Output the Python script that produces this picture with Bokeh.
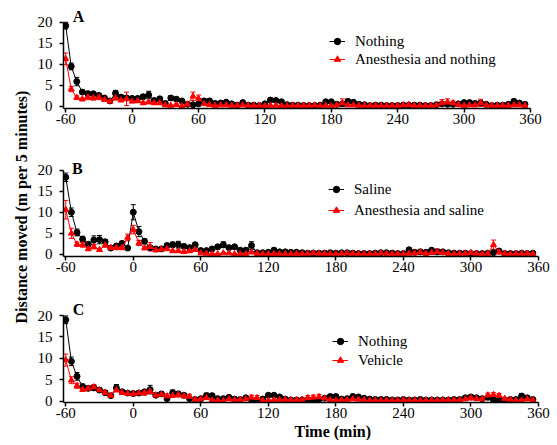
import math
from bokeh.plotting import figure
from bokeh.models import (ColumnDataSource, Range1d, FixedTicker, Whisker, TeeHead,
                          Legend, LegendItem, Label, Title)
from bokeh.layouts import row, column
from bokeh.embed import file_html
from bokeh.resources import INLINE

FONT = "Liberation Serif"

time_min = list(range(-60, 360, 5))
x_ticks = [-60, 0, 60, 120, 180, 240, 300, 360]
y_ticks = [0, 5, 10, 15, 20]

# ---------------- Panel A ----------------
a_nothing = [19.2, 9.5, 5.9, 3.4, 3.0, 3.0, 2.6, 2.0, 1.3, 3.1, 2.2, 2.0,
             1.9, 1.9, 2.3, 2.7, 1.4, 1.8, 0.7, 2.0, 1.7, 1.3, 0.5, 0.4,
             0.6, 1.3, 1.3, 0.7, 0.8, 1.0, 0.6, 0.3, 0.9, 0.3, 0.3, 0.2,
             0.6, 1.5, 1.4, 1.1, 0.4, 0.3, 0.3, 0.2, 0.2, 0.2, 0.3, 1.1,
             1.1, 0.5, 0.6, 1.2, 1.0, 0.5, 0.4, 0.2, 0.3, 0.3, 0.2, 0.2,
             0.2, 0.3, 0.3, 0.3, 0.3, 0.2, 0.2, 0.4, 0.6, 0.5, 0.5, 0.6,
             0.9, 0.9, 0.7, 0.8, 0.5, 0.2, 0.3, 0.3, 0.5, 1.2, 0.8, 0.5]
a_nothing_err = [0.8, 0.8, 1.0, 0.5, 0.6, 0.4, 0.5, 0.4, 0.3, 0.7, 0.5, 0.5,
                 0.4, 0.4, 0.5, 0.9, 0.4, 0.4, 0.3, 0.5, 0.5, 0.3, 0.2, 0.2,
                 0.3, 0.5, 0.5, 0.3, 0.3, 0.3, 0.2, 0.2, 0.3, 0.2, 0.2, 0.1,
                 0.3, 0.4, 0.4, 0.4, 0.2, 0.2, 0.2, 0.1, 0.1, 0.1, 0.2, 0.3,
                 0.3, 0.2, 0.3, 0.5, 0.4, 0.2, 0.2, 0.1, 0.1, 0.1, 0.1, 0.1,
                 0.1, 0.1, 0.1, 0.1, 0.1, 0.1, 0.1, 0.2, 0.3, 0.2, 0.2, 0.3,
                 0.3, 0.4, 0.3, 0.3, 0.2, 0.1, 0.1, 0.2, 0.2, 0.5, 0.4, 0.2]
a_anesth = [11.3, 4.1, 2.1, 1.7, 2.2, 2.0, 2.2, 1.6, 1.2, 2.0, 1.5, 1.8,
            1.2, 1.3, 0.8, 1.0, 0.8, 0.8, 0.3, 0.2, 0.4, 0.1, 0.5, 2.4,
            1.9, 0.6, 0.4, 0.2, 0.3, 0.3, 0.2, 0.2, 0.3, 0.2, 0.2, 0.2,
            0.1, 0.2, 0.2, 0.1, 0.1, 0.2, 0.2, 0.2, 0.2, 0.3, 0.1, 0.2,
            0.1, 0.3, 0.8, 0.3, 0.3, 0.2, 0.2, 0.2, 0.2, 0.2, 0.2, 0.2,
            0.2, 0.3, 0.4, 0.2, 0.2, 0.2, 0.2, 0.3, 0.8, 1.0, 0.8, 0.4,
            0.2, 0.3, 0.3, 0.8, 0.3, 0.2, 0.2, 0.2, 0.2, 0.3, 0.3, 0.2]
a_anesth_err = [1.4, 0.6, 0.4, 0.3, 0.6, 0.5, 0.6, 0.4, 0.3, 0.5, 0.4, 1.6,
                0.3, 0.4, 0.3, 0.3, 0.3, 0.3, 0.2, 0.1, 0.2, 0.1, 0.2, 1.0,
                0.8, 0.3, 0.2, 0.1, 0.2, 0.2, 0.1, 0.1, 0.2, 0.1, 0.1, 0.1,
                0.1, 0.1, 0.1, 0.1, 0.1, 0.1, 0.1, 0.1, 0.1, 0.2, 0.1, 0.1,
                0.1, 0.2, 1.0, 0.2, 0.2, 0.1, 0.1, 0.1, 0.1, 0.1, 0.1, 0.1,
                0.1, 0.2, 0.3, 0.1, 0.1, 0.1, 0.1, 0.2, 0.8, 0.8, 0.5, 0.2,
                0.1, 0.2, 0.2, 0.9, 0.2, 0.1, 0.1, 0.1, 0.1, 0.2, 0.2, 0.1]

# ---------------- Panel B ----------------
b_saline = [18.3, 10.0, 5.2, 3.6, 2.4, 3.4, 3.5, 3.0, 1.5, 2.0, 2.6, 1.5,
            10.0, 5.4, 3.1, 1.6, 1.3, 1.3, 2.1, 2.3, 2.3, 1.9, 1.6, 2.3,
            0.9, 0.9, 1.3, 1.8, 2.3, 1.6, 1.8, 1.0, 1.0, 2.1, 0.4, 0.4,
            0.5, 1.0, 0.6, 0.6, 0.5, 0.5, 0.4, 0.3, 0.3, 0.3, 0.3, 0.4,
            0.3, 0.4, 0.4, 0.3, 0.2, 0.2, 0.2, 0.3, 0.4, 0.4, 0.3, 0.2,
            0.2, 1.1, 0.5, 0.6, 0.5, 1.0, 0.6, 0.6, 0.4, 0.3, 0.3, 0.3,
            0.2, 0.2, 0.2, 0.3, 0.4, 0.8, 0.2, 0.2, 0.2, 0.3, 0.2, 0.3]
b_saline_err = [1.0, 1.0, 0.8, 0.7, 0.5, 1.0, 1.0, 0.5, 0.4, 0.4, 0.5, 0.4,
                1.8, 1.2, 0.6, 0.4, 0.3, 0.3, 0.5, 0.6, 0.8, 0.5, 0.4, 0.5,
                0.3, 0.3, 0.4, 0.5, 0.7, 0.4, 0.5, 0.4, 0.4, 0.9, 0.2, 0.2,
                0.2, 0.5, 0.3, 0.2, 0.2, 0.2, 0.1, 0.1, 0.1, 0.1, 0.1, 0.2,
                0.1, 0.2, 0.2, 0.1, 0.1, 0.1, 0.1, 0.1, 0.2, 0.2, 0.1, 0.1,
                0.1, 0.4, 0.2, 0.3, 0.2, 0.4, 0.3, 0.3, 0.2, 0.1, 0.1, 0.1,
                0.1, 0.1, 0.1, 0.1, 0.2, 0.3, 0.1, 0.1, 0.1, 0.1, 0.1, 0.1]
b_anesth = [10.6, 5.0, 2.4, 2.3, 1.3, 1.8, 1.1, 2.2, 1.6, 1.6, 1.6, 4.0,
            5.9, 2.7, 1.5, 1.8, 1.0, 1.2, 1.3, 0.8, 0.8, 0.6, 0.8, 1.1,
            0.3, 0.2, 0.1, 0.1, 0.3, 0.3, 0.1, 0.1, 0.1, 0.5, 0.2, 0.1,
            0.1, 0.1, 0.1, 0.1, 0.1, 0.2, 0.1, 0.2, 0.3, 0.2, 0.2, 0.1,
            0.1, 0.2, 0.3, 0.2, 0.1, 0.1, 0.1, 0.1, 0.3, 0.2, 0.1, 0.1,
            0.1, 0.2, 0.3, 0.5, 0.2, 0.4, 0.6, 0.4, 0.2, 0.1, 0.2, 0.2,
            0.4, 0.2, 0.1, 0.2, 2.3, 0.5, 0.2, 0.1, 0.2, 0.2, 0.2, 0.2]
b_anesth_err = [2.2, 1.2, 0.5, 0.6, 0.4, 0.5, 0.3, 0.5, 0.4, 0.5, 0.5, 0.8,
                1.0, 0.6, 0.4, 1.0, 0.3, 0.3, 0.3, 0.2, 0.2, 0.2, 0.2, 0.3,
                0.1, 0.1, 0.1, 0.1, 0.1, 0.1, 0.1, 0.1, 0.1, 0.2, 0.1, 0.1,
                0.1, 0.1, 0.1, 0.1, 0.1, 0.1, 0.1, 0.1, 0.2, 0.1, 0.1, 0.1,
                0.1, 0.1, 0.2, 0.1, 0.1, 0.1, 0.1, 0.1, 0.2, 0.1, 0.1, 0.1,
                0.1, 0.1, 0.2, 0.7, 0.1, 0.3, 0.7, 0.2, 0.1, 0.1, 0.1, 0.1,
                0.3, 0.1, 0.1, 0.1, 1.1, 0.3, 0.1, 0.1, 0.1, 0.1, 0.1, 0.1]

# ---------------- Panel C ----------------
c_nothing = [19.0, 9.3, 5.8, 3.4, 3.0, 3.1, 2.6, 2.0, 1.3, 3.1, 2.2, 1.9,
             1.8, 1.9, 2.2, 2.7, 1.4, 1.7, 0.6, 2.0, 1.7, 1.4, 0.6, 0.4,
             0.6, 1.3, 1.3, 0.6, 0.6, 0.9, 0.5, 0.4, 0.8, 0.3, 0.1, 0.5,
             1.4, 1.4, 1.0, 0.5, 0.3, 0.3, 0.3, 0.3, 0.3, 0.4, 0.7, 1.1,
             1.1, 0.5, 0.6, 1.1, 1.0, 0.7, 0.5, 0.4, 0.4, 0.4, 0.3, 0.3,
             0.4, 0.3, 0.3, 0.4, 0.3, 0.3, 0.3, 0.3, 0.3, 0.4, 0.4, 0.8,
             1.0, 0.8, 0.6, 0.9, 0.3, 0.3, 0.3, 0.4, 0.4, 1.2, 0.8, 0.4]
c_nothing_err = [0.9, 1.0, 0.9, 0.6, 0.5, 0.5, 0.5, 0.5, 0.3, 0.8, 0.5, 0.4,
                 0.4, 0.5, 0.5, 1.0, 0.4, 0.4, 0.4, 0.6, 0.6, 0.4, 0.3, 0.2,
                 0.3, 0.6, 0.5, 0.3, 0.3, 0.3, 0.2, 0.2, 0.3, 0.2, 0.1, 0.2,
                 0.4, 0.4, 0.3, 0.2, 0.1, 0.1, 0.1, 0.1, 0.1, 0.2, 0.3, 0.4,
                 0.4, 0.2, 0.3, 0.5, 0.4, 0.3, 0.2, 0.2, 0.2, 0.2, 0.1, 0.1,
                 0.2, 0.1, 0.1, 0.2, 0.1, 0.1, 0.1, 0.1, 0.1, 0.2, 0.2, 0.3,
                 0.4, 0.3, 0.3, 0.4, 0.1, 0.1, 0.1, 0.2, 0.2, 0.6, 0.4, 0.2]
c_vehicle = [9.6, 4.9, 3.6, 2.7, 3.0, 3.3, 2.6, 2.0, 1.3, 2.6, 2.0, 1.8,
             1.7, 1.9, 2.0, 2.3, 1.4, 1.6, 1.2, 1.3, 1.5, 1.2, 1.1, 0.4,
             0.5, 0.8, 0.2, 0.2, 0.1, 0.5, 0.3, 0.4, 0.5, 0.9, 0.8, 0.2,
             0.2, 0.3, 0.3, 0.4, 0.3, 0.3, 0.4, 0.8, 0.9, 1.0, 0.7, 0.3,
             0.2, 0.3, 0.3, 0.5, 0.4, 0.3, 0.2, 0.2, 0.2, 0.2, 0.2, 0.2,
             0.3, 0.2, 0.2, 0.2, 0.2, 0.2, 0.2, 0.3, 0.3, 0.3, 0.3, 0.5,
             0.8, 0.6, 0.5, 1.4, 1.5, 1.3, 0.6, 0.4, 0.2, 0.2, 0.5, 0.3]
c_vehicle_err = [1.4, 0.8, 0.6, 0.4, 0.5, 0.6, 0.4, 0.5, 0.3, 0.4, 0.4, 0.4,
                 0.4, 0.5, 0.6, 0.5, 0.3, 0.4, 0.5, 0.4, 0.5, 0.4, 0.5, 0.2,
                 0.2, 0.3, 0.1, 0.1, 0.1, 0.2, 0.1, 0.2, 0.2, 0.5, 0.5, 0.1,
                 0.1, 0.1, 0.1, 0.2, 0.1, 0.1, 0.2, 0.5, 0.5, 0.6, 0.3, 0.1,
                 0.1, 0.1, 0.1, 0.2, 0.2, 0.1, 0.1, 0.1, 0.1, 0.1, 0.1, 0.1,
                 0.1, 0.1, 0.1, 0.1, 0.1, 0.1, 0.1, 0.1, 0.1, 0.1, 0.1, 0.2,
                 0.5, 0.3, 0.2, 0.5, 0.5, 0.5, 0.3, 0.2, 0.1, 0.1, 0.2, 0.1]

BLACK = "#000000"
RED = "#ff0000"


def add_series(p, vals, errs, color, marker):
    src = ColumnDataSource(dict(
        t=time_min, v=vals,
        up=[v + e for v, e in zip(vals, errs)],
        lo=[max(0.0, v - e) for v, e in zip(vals, errs)]))
    w = Whisker(source=src, base="t", upper="up", lower="lo", level="underlay",
                line_color=color, line_width=1,
                upper_head=TeeHead(size=5, line_color=color, line_width=1),
                lower_head=TeeHead(size=5, line_color=color, line_width=1))
    p.add_layout(w)
    ln = p.line("t", "v", source=src, line_color=color, line_width=1)
    sc = p.scatter("t", "v", source=src, marker=marker, size=6,
                   fill_color=color, line_color=color)
    return [ln, sc]


def make_panel(letter, letter_xy, series, frame_w, frame_h, borders, y_start,
               y_end, legend_loc, legend_spacing):
    top, bottom, left, right = borders
    p = figure(frame_width=frame_w, frame_height=frame_h,
               x_range=Range1d(-62, 360), y_range=Range1d(y_start, y_end),
               min_border_top=top, min_border_bottom=bottom,
               min_border_left=left, min_border_right=right,
               output_backend="svg", toolbar_location=None)
    p.outline_line_color = None
    p.xgrid.visible = False
    p.ygrid.visible = False
    p.background_fill_color = "white"

    items = []
    for name, vals, errs, color, marker in series:
        rs = add_series(p, vals, errs, color, marker)
        items.append(LegendItem(label=name, renderers=rs))

    for ax, ticks in ((p.xaxis[0], x_ticks), (p.yaxis[0], y_ticks)):
        ax.ticker = FixedTicker(ticks=ticks)
        ax.major_label_overrides = {t: str(t) for t in ticks}
        ax.major_tick_out = 4
        ax.major_tick_in = 0
        ax.minor_tick_out = 0
        ax.minor_tick_in = 0
        ax.axis_line_width = 1.5
        ax.major_tick_line_width = 1.5
        ax.axis_line_color = BLACK
        ax.major_tick_line_color = BLACK
        ax.major_label_text_font = FONT
        ax.major_label_text_font_size = "15px"
        ax.major_label_text_color = BLACK
    p.xaxis[0].major_label_standoff = 1
    p.yaxis[0].major_label_standoff = 7
    p.yaxis[0].bounds = (y_start, 20)

    legend = Legend(items=items, location=legend_loc, spacing=legend_spacing,
                    padding=0, margin=0, border_line_color=None,
                    background_fill_alpha=0, glyph_width=16, glyph_height=18,
                    label_height=18, label_standoff=10,
                    label_text_font=FONT, label_text_font_size="15px",
                    label_text_color=BLACK)
    p.add_layout(legend, "center")

    p.add_layout(Label(x=letter_xy[0], y=letter_xy[1], text=letter,
                       text_font=FONT, text_font_size="16px",
                       text_font_style="bold", text_align="center",
                       text_baseline="middle", text_color=BLACK))
    return p


pA = make_panel("A", (-48.4, 21.3),
                [("Nothing", a_nothing, a_nothing_err, BLACK, "circle"),
                 ("Anesthesia and nothing", a_anesth, a_anesth_err, RED, "triangle")],
                467, 98, (10, 30, 30, 24), -0.5, 22.8, (266, 40), 0)
pB = make_panel("B", (-49.6, 20.28),
                [("Saline", b_saline, b_saline_err, BLACK, "circle"),
                 ("Anesthesia and saline", b_anesth, b_anesth_err, RED, "triangle")],
                475, 94, (24, 30, 31, 15), -0.5, 21.8, (265, 37), 3)
pC = make_panel("C", (-48.7, 21.3),
                [("Nothing", c_nothing, c_nothing_err, BLACK, "circle"),
                 ("Vehicle", c_vehicle, c_vehicle_err, RED, "triangle")],
                475, 99, (17, 10, 31, 15), -0.3, 22.8, (269, 33), 1)
pC.add_layout(Title(text="Time (min)", align="left", offset=231, standoff=1,
                    text_font=FONT, text_font_size="16px",
                    text_font_style="bold", text_color=BLACK), "below")

ylab = figure(width=32, height=443, x_range=Range1d(0, 1), y_range=Range1d(0, 1),
              min_border=0, x_axis_type=None, y_axis_type=None,
              output_backend="svg", toolbar_location=None)
ylab.outline_line_color = None
ylab.xgrid.visible = False
ylab.ygrid.visible = False
ylab.add_layout(Label(x=0.656, y=0.534, text="Distance moved (m per 5 minutes)",
                      angle=math.pi / 2, text_font=FONT, text_font_size="16px",
                      text_font_style="bold", text_align="center",
                      text_baseline="middle", text_color=BLACK))

layout = row(ylab, column(pA, pB, pC, spacing=0), spacing=0)
open("out.html", "w").write(file_html(layout, INLINE))
